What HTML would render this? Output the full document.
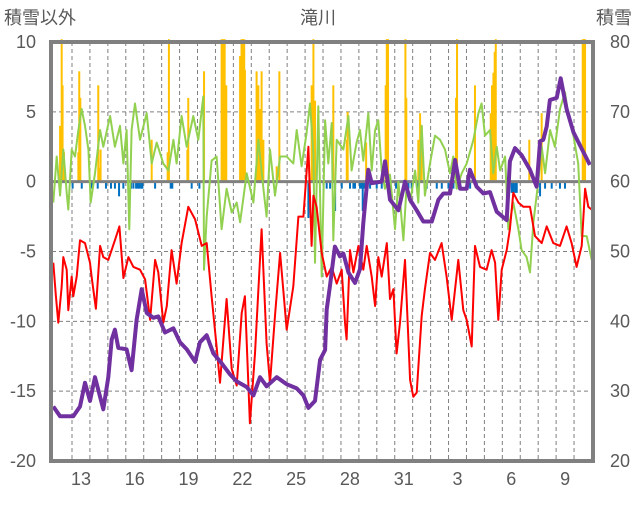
<!DOCTYPE html>
<html><head><meta charset="utf-8">
<style>
body{margin:0;background:#fff;}
svg text{font-family:"Liberation Sans","Noto Sans CJK JP",sans-serif;fill:#595959;font-size:18px;}
</style></head>
<body>
<svg id="chart" width="636" height="501" viewBox="0 0 636 501" xmlns="http://www.w3.org/2000/svg">
<text x="4" y="24">積雪以外</text>
<text x="318" y="24" text-anchor="middle">滝川</text>
<text x="632" y="24" text-anchor="end">積雪</text>
<g id="grid"></g>
<g id="bars"></g>
<g id="lines"></g>
<g id="axes"></g>
</svg>
<script>
const leftTicks=[10,5,0,-5,-10,-15,-20];
const rightTicks=[80,70,60,50,40,30,20];
const dayLabels=["13","16","19","22","25","28","31","3","6","9"];
const dayLabelIndex=[1,4,7,10,13,16,19,22,25,28];
const snowT=[0.45,0.54,0.59,0.67,1.47,1.52,1.58,2.58,2.64,2.71,5.56,6.45,6.52,7.55,7.60,8.48,9.46,9.55,9.63,9.72,10.49,10.57,10.64,10.72,10.76,11.41,11.51,11.60,11.69,11.79,12.53,12.68,14.48,14.58,14.67,15.69,16.44,16.49,17.52,18.61,18.67,18.74,19.71,19.76,20.43,20.53,20.62,22.53,22.59,23.59,24.47,24.54,24.62,24.69,24.75,26.62,27.31,29.60,29.67,29.73];
const snowV=[4.0,12,6.9,2.1,2.1,7.9,6.0,6.9,1.0,2.3,3.0,2.1,12,2.3,6.0,7.9,12,12,12,6.9,9.0,12,12,12,8.0,7.9,6.9,5.2,7.9,3.0,1.1,7.9,6.9,12,5.8,6.9,3.0,5.0,2.8,6.9,12,12,12,6.0,3.0,4.9,4.0,6.0,12,6.9,4.9,6.9,7.8,9.3,12,3.0,4.9,12,12,12];
const negT=[1.15,1.66,2.21,2.55,3.01,3.29,3.51,3.74,3.98,4.41,4.54,4.69,4.78,4.87,4.97,5.04,5.75,6.62,6.71,7.79,8.22,14.3,15.32,15.51,15.79,16.16,16.62,16.81,16.9,17.18,17.27,17.33,17.40,17.74,18.11,18.39,18.85,19.19,19.69,19.88,20.06,20.43,20.9,21.46,21.74,22.11,22.29,22.39,22.57,23.13,23.32,23.69,25.64,25.73,25.83,25.92,27.22,27.5,27.87,28.33,28.61];
const negV=[-0.5,-0.5,-0.5,-0.5,-0.5,-0.5,-0.5,-1.05,-0.5,-0.5,-0.5,-0.5,-0.5,-0.5,-0.5,-0.5,-0.5,-0.5,-0.5,-0.5,-0.5,-2.6,-0.5,-0.5,-2.1,-0.5,-0.5,-0.5,-0.5,-0.5,-0.5,-2.1,-0.5,-0.5,-0.5,-0.5,-0.5,-0.5,-0.5,-0.5,-0.5,-0.5,-0.5,-0.5,-0.5,-0.5,-0.5,-0.5,-0.5,-0.5,-0.5,-0.5,-0.8,-0.8,-0.8,-0.8,-1.05,-0.5,-0.5,-0.5,-0.5];
const greenT=[0.07,0.26,0.45,0.63,0.82,0.91,1.10,1.28,1.47,1.65,1.84,2.03,2.16,2.40,2.68,2.86,3.24,3.51,3.79,3.98,4.16,4.31,4.44,4.63,4.91,5.28,5.56,5.84,6.21,6.49,6.77,6.95,7.23,7.51,7.88,8.16,8.44,8.48,8.63,8.90,9.18,9.46,9.74,10.02,10.30,10.49,10.86,11.23,11.51,11.79,11.97,12.16,12.44,12.72,13.09,13.46,13.65,13.92,14.20,14.39,14.58,14.67,14.85,15.04,15.23,15.41,15.60,15.69,15.88,16.25,16.53,16.71,16.99,17.18,17.36,17.64,17.83,18.02,18.20,18.39,18.57,18.85,19.13,19.32,19.60,19.78,19.97,20.25,20.43,20.62,20.80,21.08,21.36,21.64,21.92,22.20,22.38,22.57,22.85,23.13,23.50,23.78,23.96,24.15,24.43,24.61,24.80,24.99,25.27,25.45,25.73,26.01,26.19,26.47,26.66,26.85,27.12,27.31,27.50,27.78,28.05,28.33,28.61,28.80,29.08,29.35,29.54,29.82,30.10];
const greenV=[-1.5,1.8,-1.0,2.3,-0.8,-2.0,2.3,1.8,3.7,5.2,4.0,2.3,-1.5,0.6,3.7,2.5,4.7,2.5,4.0,1.3,3.7,-3.4,3.7,5.6,3.0,4.9,1.3,2.8,1.3,0.8,3.0,1.3,4.7,2.5,4.7,3.0,6.1,-6.3,-2.5,1.5,1.8,-3.4,-0.5,-2.2,-1.5,-2.9,0.6,-1.5,3.0,-0.5,-2.5,2.3,-1.0,1.8,1.8,1.3,3.7,1.1,3.5,5.6,2.0,-5.8,5.4,-6.8,4.4,1.3,4.2,-4.2,3.0,2.3,4.7,0.8,2.8,3.7,1.5,4.9,0.8,3.7,4.4,0.8,-0.5,0.5,-3.4,0,-4.2,-0.2,-1.5,0.8,-1.5,4.0,-1.0,1.3,3.3,3.0,2.3,0.6,1.8,-0.5,0.6,1.3,3.0,4.9,5.6,3.3,3.7,0.6,2.5,0.8,1.8,-3.4,-1.5,-3.4,-4.9,-5.4,-6.5,-2.9,0,2.5,0.6,3.7,2.5,5.2,6.4,4.7,3.3,1.3,-3.9,-3.9,-5.6];
const redT=[0.07,0.22,0.35,0.54,0.63,0.82,0.91,1.10,1.19,1.38,1.56,1.84,2.12,2.21,2.45,2.68,2.86,3.14,3.51,3.76,3.98,4.26,4.54,4.91,5.19,5.47,5.75,5.93,6.21,6.40,6.67,6.95,7.23,7.60,7.98,8.35,8.63,8.90,9.18,9.37,9.74,10.02,10.30,10.58,10.76,11.04,11.32,11.69,11.97,12.16,12.44,12.72,13.09,13.46,13.74,14.02,14.30,14.48,14.58,14.76,15.04,15.32,15.60,15.88,16.16,16.34,16.43,16.62,16.81,17.09,17.36,17.55,17.83,18.02,18.20,18.39,18.67,18.85,19.04,19.22,19.41,19.69,19.97,20.15,20.34,20.62,20.80,21.08,21.36,21.73,22.01,22.29,22.66,22.94,23.13,23.41,23.59,23.87,24.24,24.52,24.71,24.89,25.08,25.36,25.54,25.73,26.01,26.29,26.66,26.94,27.31,27.59,27.96,28.33,28.70,28.98,29.26,29.54,29.73,29.91,30.10];
const redV=[-5.8,-8.2,-10.1,-7.5,-5.4,-6.3,-9.2,-6.8,-8.2,-6.8,-4.2,-4.4,-5.8,-6.8,-9.1,-4.6,-5.4,-5.6,-4.2,-3.2,-6.9,-5.4,-6.1,-6.3,-7.0,-9.9,-5.6,-6.5,-10.1,-8.9,-4.9,-7.3,-4.4,-1.8,-2.7,-4.6,-4.4,-8.2,-11.8,-14.4,-8.4,-13.4,-14.6,-9.4,-8.2,-17.3,-12.3,-3.4,-11.6,-14.4,-9.6,-5.1,-10.6,-7.5,-2.5,-2.5,2.5,-4.6,-1.0,-1.8,-5.1,-6.8,-6.1,-7.3,-6.3,-10.1,-11.3,-4.9,-6.5,-4.6,-6.3,-4.6,-6.8,-8.9,-5.4,-6.8,-4.4,-8.4,-7.7,-12.3,-10.1,-5.6,-14.2,-15.4,-15.1,-9.6,-7.7,-5.1,-5.6,-4.4,-6.8,-9.9,-5.6,-9.2,-9.9,-11.8,-4.6,-6.1,-6.3,-4.9,-5.8,-9.9,-6.3,-4.9,-3.4,-0.8,-1.5,-1.8,-1.8,-3.9,-4.4,-3.2,-4.4,-4.6,-3.2,-4.4,-6.1,-4.6,-0.5,-1.8,-2.0];
const depthT=[0.07,0.45,1.19,1.56,1.84,2.12,2.40,2.86,3.14,3.33,3.51,3.70,4.16,4.44,4.72,5.0,5.28,5.65,5.93,6.30,6.77,7.14,7.51,7.98,8.25,8.63,9.0,9.46,9.93,10.30,10.86,11.23,11.60,11.97,12.53,13.09,13.65,14.02,14.30,14.67,14.95,15.23,15.32,15.50,15.78,16.06,16.25,16.53,16.90,17.18,17.36,17.64,17.83,18.39,18.57,18.85,19.32,19.69,19.97,20.34,20.71,21.18,21.55,21.83,22.20,22.48,22.76,23.13,23.31,23.68,24.06,24.43,24.80,25.36,25.54,25.82,26.19,26.66,27.03,27.22,27.40,27.59,27.77,28.15,28.37,28.70,29.08,29.45,29.82,30.0];
const depthV=[27.8,26.4,26.4,27.8,31.2,28.6,32,27.4,32,37.4,38.8,36.2,36,33,40.2,44.6,41.2,40.5,40.7,38.4,39,37,36,34.2,37,38,35.4,34,32.4,31.4,30.6,29.4,32,30.7,32,31,30.4,29.4,27.6,28.6,34.5,35.9,41.7,45,50.7,49.3,49.7,47,45.5,47.5,54.1,61.7,59.8,60,62.9,57.4,55.9,60,57.4,55.9,54.3,54.3,57.4,58.3,58.3,63.1,59,59,61.7,59.3,58.3,58.5,55.7,54.5,62.9,64.8,63.8,61.7,59.3,65.8,66,67.9,71.7,72,74.8,70.4,67.1,65.2,63.3,62.4];

const NS='http://www.w3.org/2000/svg';
const L=52,R=592,T=42,B=461,DAY=17.93;
const xs=t=>L+t*DAY;
const yl=v=>T+(10-v)*(B-T)/30;
const yr=v=>T+(80-v)*(B-T)/60;
function mk(tag,attrs,parent){const e=document.createElementNS(NS,tag);for(const k in attrs)e.setAttribute(k,attrs[k]);document.getElementById(parent).appendChild(e);return e;}
// grid
leftTicks.forEach((v,i)=>{
  if(v<10&&v>-20&&v!==0){const g=mk('line',{x1:L,x2:R,y1:yl(v),y2:yl(v),stroke:'#808080','stroke-width':1,'stroke-dasharray':'4 3'},'grid');
  
  }
  const t=mk('text',{x:36,y:yl(v)+6,'text-anchor':'end'},'axes');t.textContent=String(v);
  
  
});
rightTicks.forEach(v=>{
  const t=mk('text',{x:610,y:yr(v)+6},'axes');t.textContent=String(v);
  
  
});
for(let k=0;k<=29;k++){
  const x=L+20+k*DAY; if(x>=R-1)break;
  const g=mk('line',{x1:x,x2:x,y1:T,y2:B,stroke:'#808080','stroke-width':1,'stroke-dasharray':'4 3'},'grid');
  
  
}
dayLabels.forEach((s,i)=>{
  const t=mk('text',{x:L+20+dayLabelIndex[i]*DAY-DAY*0.5,y:485,'text-anchor':'middle'},'axes');t.textContent=s;
  
  
});
// bars
snowT.forEach((t,i)=>{
  const v=Math.min(snowV[i],10.2);
  const b=mk('rect',{x:xs(t)-1,y:yl(v),width:2,height:yl(0)-yl(v),fill:'#ffc000'},'bars');
  
  
});
negT.forEach((t,i)=>{
  const b=mk('rect',{x:xs(t)-1,y:yl(0),width:2,height:yl(negV[i])-yl(0),fill:'#0070c0'},'bars');
  
  
});
const z=mk('line',{x1:L,x2:R,y1:yl(0),y2:yl(0),stroke:'#808080','stroke-width':3},'bars');


function line(T_,V_,yf,color,w,name){
  const d=T_.map((t,i)=>(i?'L':'M')+xs(t).toFixed(1)+' '+yf(V_[i]).toFixed(1)).join(' ');
  const p=mk('path',{d:d,fill:'none',stroke:color,'stroke-width':w,'stroke-linejoin':'round'},'lines');
  
  
}
line(greenT,greenV,yl,'#92d050',2,'green-series');
line(redT,redV,yl,'#ff0000',2,'temperature-series');
line(depthT,depthV,yr,'#7030a0',4,'snow-depth-series');
const f=mk('rect',{x:L-1,y:T,width:R-L+2,height:B-T,fill:'none',stroke:'#808080','stroke-width':4},'axes');


</script>
</body></html>
